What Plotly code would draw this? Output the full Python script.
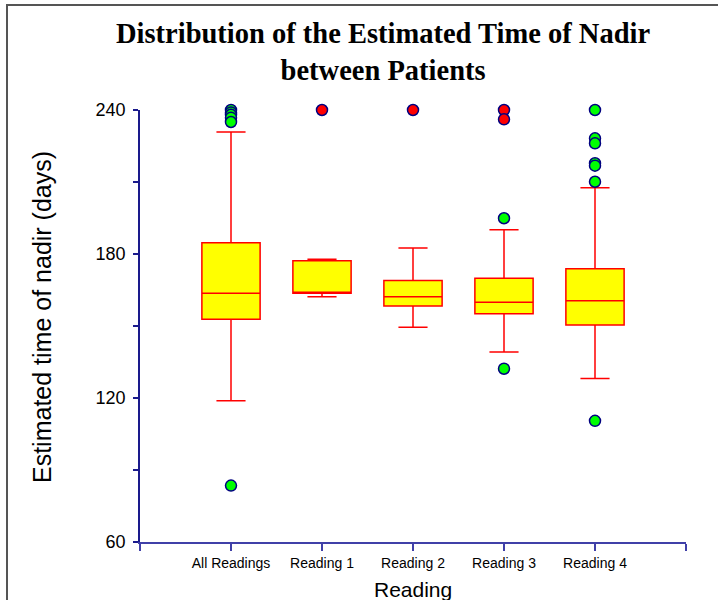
import plotly.graph_objects as go

# ---- data ----
categories = ["All Readings", "Reading 1", "Reading 2", "Reading 3", "Reading 4"]
q1 = [152.8, 163.6, 158.3, 155.1, 150.4]
median = [163.6, 163.6, 162.2, 159.9, 160.5]
q3 = [184.7, 177.2, 169.0, 169.9, 173.9]
lower_fence = [118.9, 162.2, 149.5, 139.2, 128.1]
upper_fence = [230.8, 177.8, 182.5, 190.1, 207.6]

# near outliers (green) per category
near_outliers = {
    "All Readings": [240, 239, 238, 236.8, 235, 83.5],
    "Reading 3": [194.9, 132.2],
    "Reading 4": [240, 228.2, 226.1, 217.8, 216.8, 210.1, 110.5],
}
# far outliers (red) per category
far_outliers = {
    "Reading 1": [240],
    "Reading 2": [240],
    "Reading 3": [240, 236.1],
}

y_ticks = [60, 90, 120, 150, 180, 210, 240]
y_ticklabels = ["60", "", "120", "", "180", "", "240"]

title_text = "<b>Distribution of the Estimated Time of Nadir<br>between Patients</b>"
x_title = "Reading"
y_title = "Estimated time of nadir (days)"

# ---- figure ----
W, H = 718, 600
L, R, T, B = 140, 32, 110, 58
pw, ph = W - L - R, H - T - B
xpos = list(range(len(categories)))

def px_x(p):
    return (p - L) / pw

def px_y(p):
    return (H - B - p) / ph

fig = go.Figure()
fig.add_trace(go.Box(
    x=xpos, q1=q1, median=median, q3=q3,
    lowerfence=lower_fence, upperfence=upper_fence,
    width=0.64, whiskerwidth=0.5, boxpoints=False,
    fillcolor="#ffff00", line=dict(color="#ff0000", width=1.5),
    showlegend=False, hoverinfo="skip",
))

def add_points(d, fill):
    xs, ys = [], []
    for cat, vals in d.items():
        i = categories.index(cat)
        xs += [i] * len(vals)
        ys += vals
    fig.add_trace(go.Scatter(
        x=xs, y=ys, mode="markers", cliponaxis=False, showlegend=False,
        marker=dict(size=11, color=fill, line=dict(color="#000080", width=1.5)),
    ))

add_points(near_outliers, "#00ff00")
add_points(far_outliers, "#ff0000")

fig.update_layout(
    width=W, height=H,
    margin=dict(l=L, r=R, t=T, b=B, autoexpand=False),
    paper_bgcolor="white", plot_bgcolor="white",
    font=dict(family="Liberation Sans", color="black"),
)
fig.update_xaxes(
    range=[-1, 5], tickmode="array",
    tickvals=[-1] + xpos + [5], ticktext=[""] + categories + [""],
    showgrid=False, zeroline=False, showline=True, automargin=False,
    linecolor="#4040a8", linewidth=2,
    ticks="outside", ticklen=7, tickcolor="#4040a8", tickwidth=2,
    tickfont=dict(size=14, color="black"),
)
fig.update_yaxes(
    range=[60, 240], tickmode="array", tickvals=y_ticks, ticktext=y_ticklabels,
    showgrid=False, zeroline=False, showline=True, automargin=False,
    linecolor="#1a1a8c", linewidth=1.5,
    ticks="outside", ticklen=5, tickcolor="#1a1a8c", tickwidth=1.5,
    tickfont=dict(size=18, color="black"), ticklabelstandoff=4,
)
# chart title
fig.add_annotation(
    text=title_text, showarrow=False, xref="paper", yref="paper",
    x=px_x(383), y=px_y(52), xanchor="center", yanchor="middle",
    font=dict(family="Liberation Serif", size=28.5, color="black"),
)
# axis titles
fig.add_annotation(
    text=x_title, showarrow=False, xref="paper", yref="paper",
    x=px_x(413), y=px_y(589), xanchor="center", yanchor="middle",
    font=dict(size=21, color="black", family="Liberation Sans"),
)
fig.add_annotation(
    text=y_title, textangle=-90, showarrow=False,
    xref="paper", yref="paper",
    x=px_x(42), y=px_y(317), xanchor="center", yanchor="middle",
    font=dict(size=25, color="black", family="Liberation Sans"),
)
# outer frame (cropped at right / bottom)
fig.add_shape(
    type="rect", xref="paper", yref="paper",
    x0=px_x(7), x1=px_x(W + 20),
    y0=px_y(H + 20), y1=px_y(5),
    line=dict(color="#555555", width=2), fillcolor="rgba(0,0,0,0)", layer="below",
)

fig.write_html("out.html", config={"displayModeBar": False},
               post_script="document.body.style.margin='0';")
